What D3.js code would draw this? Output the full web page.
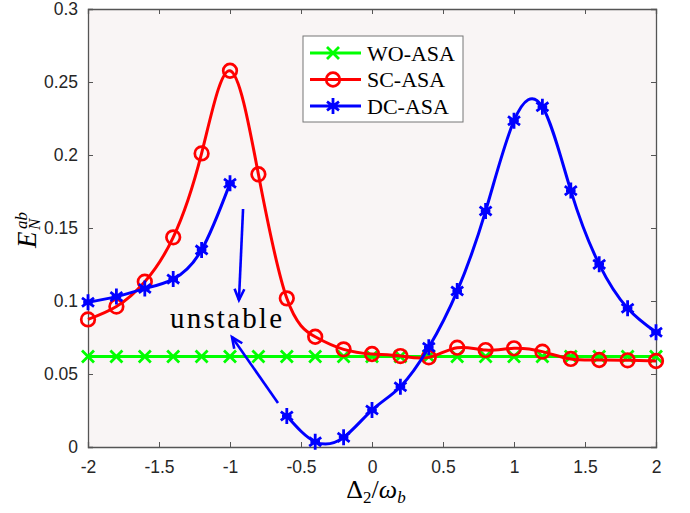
<!DOCTYPE html>
<html><head><meta charset="utf-8">
<script src="https://cdn.jsdelivr.net/npm/d3@7"></script>
<style>body{margin:0;background:#fff}svg{display:block}</style>
</head><body><svg id="c" width="690" height="513"></svg>
<script>
const xs = [-2,-1.8,-1.6,-1.4,-1.2,-1.0,-0.8,-0.6,-0.4,-0.2,0,0.2,0.4,0.6,0.8,1.0,1.2,1.4,1.6,1.8,2.0];
const woASA = [0.062,0.062,0.062,0.062,0.062,0.062,0.062,0.062,0.062,0.062,0.062,0.062,0.062,0.062,0.062,0.062,0.062,0.062,0.062,0.062,0.062];
const scASA = [0.0874,0.0962,0.1132,0.1436,0.2011,0.2577,0.1868,0.1018,0.0755,0.0669,0.0637,0.0623,0.0614,0.0680,0.0664,0.0676,0.0653,0.0603,0.0596,0.0594,0.0589];
const dcASA = [0.0991,0.1030,0.1085,0.1150,0.1350,0.1806,null,0.0212,0.0036,0.0066,0.0253,0.0413,0.0683,0.1068,0.1616,0.2235,0.2330,0.1756,0.1251,0.0950,0.0786];
const xTicks = [-2,-1.5,-1,-0.5,0,0.5,1,1.5,2];
const yTicks = [0,0.05,0.1,0.15,0.2,0.25,0.3];
const legendLabels = ["WO-ASA","SC-ASA","DC-ASA"];
const annotation = "unstable";
const arrows = [[[-0.908,0.163],[-0.937,0.1007]],[[-0.662,0.0301],[-0.986,0.0753]]];

const svg = d3.select("#c");
const L=88,R=656,T=9,B=447;
const x = d3.scaleLinear().domain([-2,2]).range([L,R]);
const y = d3.scaleLinear().domain([0,0.3]).range([B,T]);
const axisCol="#555", tickTxt="#262626";
const serif="'Liberation Serif','DejaVu Serif',serif";

svg.append("rect").attr("x",L).attr("y",T).attr("width",R-L).attr("height",B-T).attr("fill","#f9f5f5");

const defs = svg.append("defs");
defs.append("clipPath").attr("id","clip").append("rect").attr("x",L-20).attr("y",T-20).attr("width",R-L+40).attr("height",B-T+40);

const fmt = d => String(d);
const gx = svg.append("g").attr("transform",`translate(0,${B})`).call(d3.axisBottom(x).tickValues(xTicks).tickSize(-5).tickPadding(14).tickFormat(fmt));
const gxt = svg.append("g").attr("transform",`translate(0,${T})`).call(d3.axisTop(x).tickValues(xTicks).tickSize(-5).tickFormat(""));
const gy = svg.append("g").attr("transform",`translate(${L},0)`).call(d3.axisLeft(y).tickValues(yTicks).tickSize(-5).tickPadding(10).tickFormat(fmt));
const gyr = svg.append("g").attr("transform",`translate(${R},0)`).call(d3.axisRight(y).tickValues(yTicks).tickSize(-5).tickFormat(""));
[gx,gxt,gy,gyr].forEach(g=>{
  g.select(".domain").attr("stroke",axisCol).attr("stroke-width",1.3);
  g.selectAll(".tick line").attr("stroke",axisCol).attr("stroke-width",1);
  g.selectAll(".tick text").attr("fill",tickTxt).attr("font-family","'Liberation Sans',Arial,sans-serif").attr("font-size",17.5);
});

const plot = svg.append("g").attr("clip-path","url(#clip)");
const series = [
  {name:legendLabels[0], vals:woASA, color:"#00ff00", marker:"x", tl:88},
  {name:legendLabels[1], vals:scASA, color:"#ff0000", marker:"o", tl:78},
  {name:legendLabels[2], vals:dcASA, color:"#0000ff", marker:"*", tl:82}
];
const line = d3.line().x(d=>x(d[0])).y(d=>y(d[1])).curve(d3.curveNatural);

function drawMarker(g, type, cx, cy, color){
  if(type==="x"){
    const s=6;
    g.append("path").attr("d",`M${cx-s},${cy-s}L${cx+s},${cy+s}M${cx-s},${cy+s}L${cx+s},${cy-s}`)
     .attr("stroke",color).attr("stroke-width",2.8).attr("fill","none");
  } else if(type==="o"){
    g.append("circle").attr("cx",cx).attr("cy",cy).attr("r",6.8).attr("stroke",color).attr("stroke-width",2.7).attr("fill","none");
  } else {
    const s=8, d=s*0.75;
    g.append("path").attr("d",`M${cx},${cy-s}L${cx},${cy+s}M${cx-d},${cy-s*0.55}L${cx+d},${cy+s*0.55}M${cx-d},${cy+s*0.55}L${cx+d},${cy-s*0.55}M${cx-s*0.6},${cy}L${cx+s*0.6},${cy}`)
     .attr("stroke",color).attr("stroke-width",2.8).attr("fill","none");
  }
}

series.forEach(s=>{
  const pts = xs.map((v,i)=>[v,s.vals[i]]);
  let segs=[], cur=[];
  pts.forEach(p=>{ if(p[1]===null){ if(cur.length) segs.push(cur); cur=[]; } else cur.push(p); });
  if(cur.length) segs.push(cur);
  segs.forEach(sg=>{
    plot.append("path").datum(sg).attr("d",line).attr("fill","none").attr("stroke",s.color).attr("stroke-width",3);
  });
  const mg = plot.append("g");
  pts.filter(p=>p[1]!==null).forEach(p=>drawMarker(mg,s.marker,x(p[0]),y(p[1]),s.color));
});

arrows.forEach(a=>{
  const x1=x(a[0][0]), y1=y(a[0][1]), x2=x(a[1][0]), y2=y(a[1][1]);
  svg.append("line").attr("x1",x1).attr("y1",y1).attr("x2",x2).attr("y2",y2).attr("stroke","#0000ff").attr("stroke-width",2.6);
  const ang=Math.atan2(y2-y1,x2-x1), hl=12, hw=0.42;
  const p1=[x2-hl*Math.cos(ang-hw), y2-hl*Math.sin(ang-hw)];
  const p2=[x2-hl*Math.cos(ang+hw), y2-hl*Math.sin(ang+hw)];
  svg.append("path").attr("d",`M${p1[0]},${p1[1]}L${x2},${y2}L${p2[0]},${p2[1]}`).attr("fill","none").attr("stroke","#0000ff").attr("stroke-width",2.6);
});
svg.append("text").attr("x",170).attr("y",328)
  .attr("font-family",serif).attr("font-size",29).attr("textLength",112).attr("lengthAdjust","spacing").attr("fill","#000").text(annotation);

const lg = svg.append("g");
lg.append("rect").attr("x",303).attr("y",36).attr("width",160).attr("height",86).attr("fill","#fff").attr("stroke","#777").attr("stroke-width",1);
series.forEach((s,i)=>{
  const yy = 53 + i*26.5;
  lg.append("line").attr("x1",310).attr("x2",361).attr("y1",yy).attr("y2",yy).attr("stroke",s.color).attr("stroke-width",3);
  drawMarker(lg,s.marker,333,yy,s.color);
  lg.append("text").attr("x",367).attr("y",yy+7.5).attr("font-family",serif).attr("font-size",21.5)
    .attr("textLength",s.tl).attr("lengthAdjust","spacingAndGlyphs").attr("fill","#000").text(s.name);
});

const yl = svg.append("g").attr("transform","translate(36,248) rotate(-90)").attr("font-family",serif).attr("font-style","italic").attr("fill","#000");
yl.append("text").attr("x",0).attr("y",0).attr("font-size",27).text("E");
yl.append("text").attr("x",19).attr("y",-9).attr("font-size",17).text("ab");
yl.append("text").attr("x",18).attr("y",4).attr("font-size",17).text("N");

const xl = svg.append("text").attr("x",376).attr("y",498).attr("text-anchor","middle").attr("font-family",serif).attr("font-size",26).attr("fill","#000");
xl.append("tspan").text("Δ");
xl.append("tspan").attr("font-size",17).attr("dy",5).text("2");
xl.append("tspan").attr("dy",-5).text("/");
xl.append("tspan").attr("font-style","italic").text("ω");
xl.append("tspan").attr("font-style","italic").attr("font-size",17).attr("dy",5).text("b");
</script></body></html>
